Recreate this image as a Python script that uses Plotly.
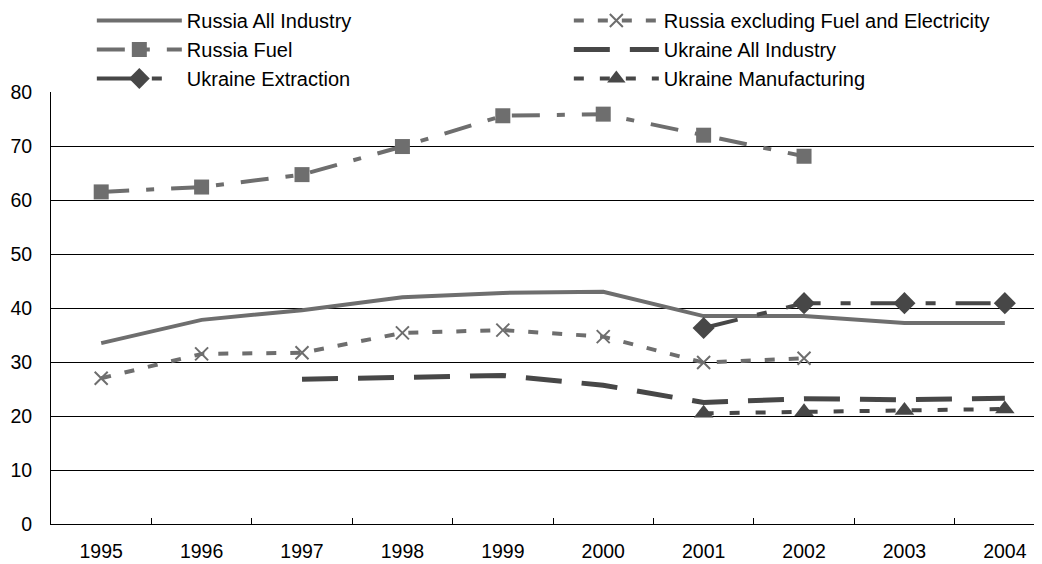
import plotly.graph_objects as go

years = ['1995', '1996', '1997', '1998', '1999', '2000', '2001', '2002', '2003', '2004']

russia_all = [33.5, 37.8, 39.6, 42.0, 42.8, 43.0, 38.5, 38.5, 37.2, 37.2]
russia_excl = [27.0, 31.5, 31.7, 35.4, 35.9, 34.7, 29.9, 30.7, None, None]
russia_fuel = [61.5, 62.4, 64.7, 69.9, 75.6, 75.9, 72.0, 68.1, None, None]
ukraine_all = [None, None, 26.8, 27.1, 27.5, 25.7, 22.5, 23.2, 23.0, 23.3]
ukraine_extr = [None, None, None, None, None, None, 36.3, 40.9, 40.9, 40.9]
ukraine_manuf = [None, None, None, None, None, None, 20.5, 20.8, 21.0, 21.3]

RU = '#6e6e6e'
UA = '#474747'

fig = go.Figure()

fig.add_trace(go.Scatter(
    x=years, y=russia_all, name='Russia All Industry', mode='lines',
    line=dict(color=RU, width=4)
))
fig.add_trace(go.Scatter(
    x=years, y=russia_excl, name='Russia excluding Fuel and Electricity', mode='lines+markers',
    line=dict(color=RU, width=4, dash='10px,14px'),
    marker=dict(symbol='x-thin', size=13, line=dict(color=RU, width=2))
))
fig.add_trace(go.Scatter(
    x=years, y=russia_fuel, name='Russia Fuel', mode='lines+markers',
    line=dict(color=RU, width=4, dash='28px,17px,8px,17px'),
    marker=dict(symbol='square', size=15, color=RU)
))
fig.add_trace(go.Scatter(
    x=years, y=ukraine_all, name='Ukraine All Industry', mode='lines',
    line=dict(color=UA, width=5, dash='36px,20px')
))
fig.add_trace(go.Scatter(
    x=years, y=ukraine_extr, name='Ukraine Extraction', mode='lines+markers',
    line=dict(color=UA, width=4, dash='35px,20px,10px,20px'),
    marker=dict(symbol='diamond', size=17, color=UA)
))
fig.add_trace(go.Scatter(
    x=years, y=ukraine_manuf, name='Ukraine Manufacturing', mode='lines+markers',
    line=dict(color=UA, width=4, dash='10px,16px'),
    marker=dict(symbol='triangle-up', size=17, color=UA)
))

# page body adds 8px, so the figure is drawn 8px smaller than the window
fig.update_layout(
    width=1034, height=556,
    margin=dict(l=43, r=0, t=84, b=40, autoexpand=False),
    plot_bgcolor='white', paper_bgcolor='white',
    font=dict(family='Liberation Sans, Arial', size=19.5, color='black'),
    showlegend=True,
    legend=dict(
        orientation='h',
        x=0.0412, y=1.2106, xanchor='left', yanchor='top',
        itemwidth=85, entrywidth=377, tracegroupgap=0,
        font=dict(size=20), bgcolor='rgba(0,0,0,0)'
    ),
    xaxis=dict(
        type='category', range=[-0.5, 9.37],
        showline=True, linecolor='black', linewidth=1,
        ticks='inside', ticklen=6, tickcolor='black', tickson='boundaries',
        showgrid=False, zeroline=False, ticklabelstandoff=10
    ),
    yaxis=dict(
        range=[0, 80], dtick=10,
        showline=True, linecolor='black', linewidth=1,
        ticks='', showgrid=True, gridcolor='black', gridwidth=1,
        zeroline=False, ticklabelstandoff=14
    )
)

fig.write_html("out.html")
